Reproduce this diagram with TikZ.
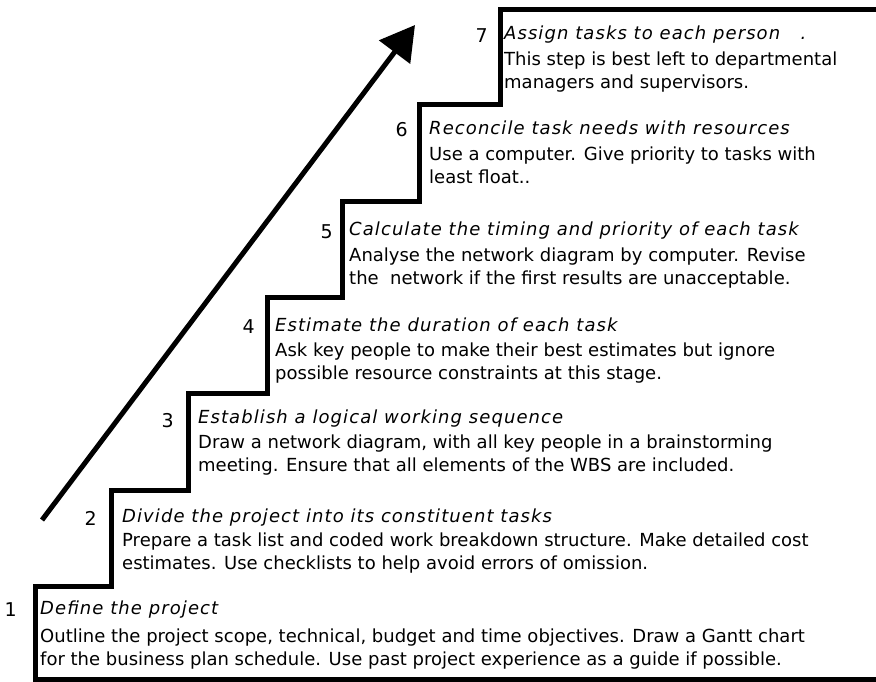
\documentclass[tikz,border=0pt]{standalone}
\usepackage{fontspec}
\setmainfont{DejaVu Sans}
\usetikzlibrary{arrows.meta, positioning}

\begin{document}
\begin{tikzpicture}[
    x=1pt, y=1pt,
    every node/.style={inner sep=0pt, font=\fontsize{18}{23.3}\selectfont},
    stair/.style={line width=5pt, line join=miter},
    steptitle/.style={anchor=base west, font=\fontsize{18}{23.3}\selectfont\itshape\addfontfeature{LetterSpace=6}},
    stepbody/.style={align=left},
    stepnum/.style={anchor=base east, font=\fontsize{19}{20}\selectfont},
    arrow/.style={-{Triangle[length=34pt, width=38pt]}, line width=5pt}
]
\useasboundingbox (0,0) rectangle (876,-682);

% the staircase
\draw[stair] (876,-679) -- (35,-679) -- (35,-586) -- (111,-586) -- (111,-490)
    -- (188,-490) -- (188,-393) -- (267,-393) -- (267,-297) -- (342,-297)
    -- (342,-202) -- (419,-202) -- (419,-105) -- (500,-105) -- (500,-10) -- (876,-10);

% steps
\node[steptitle] (t1) at (40,-614) {Define the project};
\node[stepbody, below right=14pt and 0pt of t1.base west] (b1) {\rule{0pt}{14pt}Outline the project scope, technical, budget and time objectives. Draw a Gantt chart\\for the business plan schedule. Use past project experience as a guide if possible.};
\node[stepnum] (n1) at (17,-616) {1};

\node[steptitle] (t2) at (122,-522) {Divide the project into its constituent tasks};
\node[stepbody, below right=10pt and 0pt of t2.base west] (b2) {\rule{0pt}{14pt}Prepare a task list and coded work breakdown structure. Make detailed cost\\estimates. Use checklists to help avoid errors of omission.};
\node[stepnum] (n2) at (97,-525) {2};

\node[steptitle] (t3) at (198,-423) {Establish a logical working sequence};
\node[stepbody, below right=11pt and 0pt of t3.base west] (b3) {\rule{0pt}{14pt}Draw a network diagram, with all key people in a brainstorming\\meeting. Ensure that all elements of the WBS are included.};
\node[stepnum] (n3) at (174,-427) {3};

\node[steptitle] (t4) at (275,-331) {Estimate the duration of each task};
\node[stepbody, below right=11pt and 0pt of t4.base west] (b4) {\rule{0pt}{14pt}Ask key people to make their best estimates but ignore\\possible resource constraints at this stage.};
\node[stepnum] (n4) at (255,-333) {4};

\node[steptitle] (t5) at (349,-235) {Calculate the timing and priority of each task};
\node[stepbody, below right=12pt and 0pt of t5.base west] (b5) {\rule{0pt}{14pt}Analyse the network diagram by computer. Revise\\the\ \ network if the first results are unacceptable.};
\node[stepnum] (n5) at (333,-238) {5};

\node[steptitle] (t6) at (429,-135) {Reconcile task needs with resources};
\node[stepbody, below right=11pt and 0pt of t6.base west] (b6) {\rule{0pt}{14pt}Use a computer. Give priority to tasks with\\least float..};
\node[stepnum] (n6) at (408,-137) {6};

\node[steptitle] (t7) at (504,-40) {Assign tasks to each person\ \ \ .};
\node[stepbody, below right=11pt and 0pt of t7.base west] (b7) {\rule{0pt}{14pt}This step is best left to departmental\\managers and supervisors.};
\node[stepnum] (n7) at (488,-43) {7};

% the rising arrow
\coordinate (a0) at (42,-520);
\coordinate (a1) at (415,-25);
\draw[arrow] (a0) -- (a1);
\end{tikzpicture}
\end{document}
